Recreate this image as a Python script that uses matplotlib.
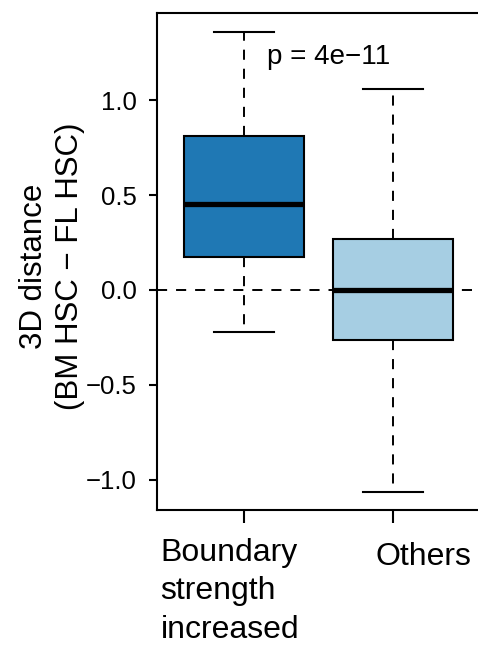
import matplotlib
matplotlib.use('Agg')
import matplotlib.pyplot as plt
import matplotlib.transforms as mtransforms

plt.rcParams['font.family'] = ['Liberation Sans', 'DejaVu Sans']

# box statistics
groups = ['Boundary\nstrength\nincreased', 'Others']
q1 = [0.174, -0.263]
med = [0.453, 0.0]
q3 = [0.811, 0.268]
whislo = [-0.221, -1.063]
whishi = [1.358, 1.058]
colors = ['#1f78b4', '#a6cee3']
yticks = [-1.0, -0.5, 0.0, 0.5, 1.0]
ptext = 'p = 4e\u221211'

stats = [dict(label=g, q1=a, med=m, q3=b, whislo=lo, whishi=hi, fliers=[])
         for g, a, m, b, lo, hi in zip(groups, q1, med, q3, whislo, whishi)]

fig = plt.figure(figsize=(4.78, 6.46), dpi=100)
ax = fig.add_axes([157 / 478, 1 - 510 / 646, (480 - 157) / 478, (510 - 13) / 646])

dash = (0, (5.2, 4.6))
bp = ax.bxp(stats, positions=[1, 2], widths=0.8, patch_artist=True,
            showfliers=False,
            boxprops=dict(linewidth=1.5, edgecolor='black'),
            medianprops=dict(linewidth=3.8, color='black', solid_capstyle='butt'),
            whiskerprops=dict(linewidth=1.4, linestyle=dash, color='black'),
            capprops=dict(linewidth=1.5, color='black'),
            capwidths=0.4, zorder=2)
for patch, c in zip(bp['boxes'], colors):
    patch.set_facecolor(c)

ax.axhline(0, color='black', linewidth=1.4, linestyle=dash, zorder=1)

ax.set_xlim(0.42, 2.58)
ax.set_ylim(-1.158, 1.458)
ax.set_yticks(yticks)
ax.set_yticklabels(['\u22121.0', '\u22120.5', '0.0', '0.5', '1.0'], fontsize=18.5)
ax.set_xticks([1, 2])
ax.set_xticklabels([])
ax.tick_params(axis='y', length=6, width=1.5, pad=8.5)
ax.tick_params(axis='x', length=9, width=1.5)
for s in ax.spines.values():
    s.set_linewidth(1.5)

# group labels under the axis, left aligned like the original
trans = mtransforms.blended_transform_factory(ax.transData, fig.transFigure)
ax.text(0.443, 1 - 638 / 646, groups[0], transform=trans, ha='left',
        va='baseline', fontsize=23, linespacing=1.38)
ax.text(1.88, 1 - 565 / 646, groups[1], transform=trans, ha='left',
        va='baseline', fontsize=23)

ax.text(1.57, 1.226, ptext, ha='center', va='center', fontsize=20)

fig.text(42 / 478, 1 - 266 / 646, '3D distance', rotation=90, ha='center',
         va='baseline', rotation_mode='anchor', fontsize=22.5)
fig.text(78 / 478, 1 - 266 / 646, '(BM HSC \u2212 FL HSC)', rotation=90,
         ha='center', va='baseline', rotation_mode='anchor', fontsize=22.5)

fig.savefig('out.png', dpi=100)
